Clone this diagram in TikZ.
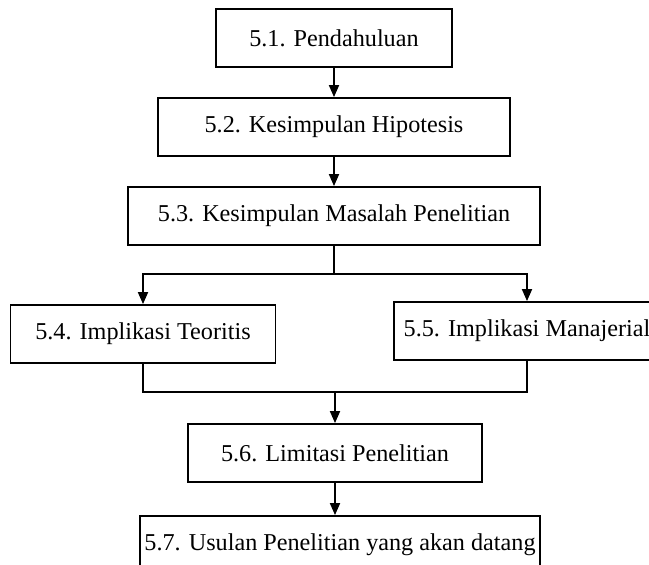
\documentclass[tikz,border=0pt]{standalone}
\usepackage{fontspec}
\setmainfont{Liberation Serif}
\usetikzlibrary{arrows.meta}

\begin{document}
\begin{tikzpicture}[every node/.style={rectangle,draw,line width=0.9pt,minimum height=29pt,inner sep=0pt,align=center,font=\fontsize{12.1}{14}\selectfont}, node distance=44.5pt, >={Triangle[width=5pt,length=6pt]}, line width=0.9pt]
			\useasboundingbox (0,0) rectangle (324.5pt,-282.5pt);
			\node[minimum width=118pt] (PEND) at (167pt,-19pt) {5.1. Pendahuluan};
			\node[minimum width=176pt, below of=PEND] (HIP) {5.2. Kesimpulan Hipotesis};
			\node[minimum width=206pt, below of=HIP] (MAS) {5.3. Kesimpulan Masalah Penelitian};
			\node[minimum width=132.5pt, node distance=59pt, below of=MAS, xshift=-95.5pt] (TEO) {5.4. Implikasi Teoritis};
			\node[minimum width=133pt, node distance=57.5pt, below of=MAS, xshift=96.5pt] (MAN) {5.5. Implikasi Manajerial};
			\node[minimum width=147pt, node distance=118.5pt, below of=MAS, xshift=0.5pt] (LIM) {5.6. Limitasi Penelitian};
			\node[minimum width=200pt, node distance=46pt, below of=LIM, xshift=2.5pt] (USUL) {5.7. Usulan Penelitian yang akan datang};
			
			\coordinate (split) at ([yshift=-14pt]MAS.south);
			\coordinate (merge) at ([yshift=15.5pt]LIM.north);
			
			\path (PEND) edge[->] (HIP);
			\path (HIP) edge[->] (MAS);
			\path (MAS.south) edge (split);
			\draw[->] (split) -| (TEO.north);
			\draw[->] (split) -| (MAN.north);
			\draw (TEO.south) |- (merge);
			\draw (MAN.south) |- (merge);
			\path (merge) edge[->] (LIM);
			\path (LIM.south) edge[->] (USUL.north -| LIM.south);
		\end{tikzpicture}
\end{document}
